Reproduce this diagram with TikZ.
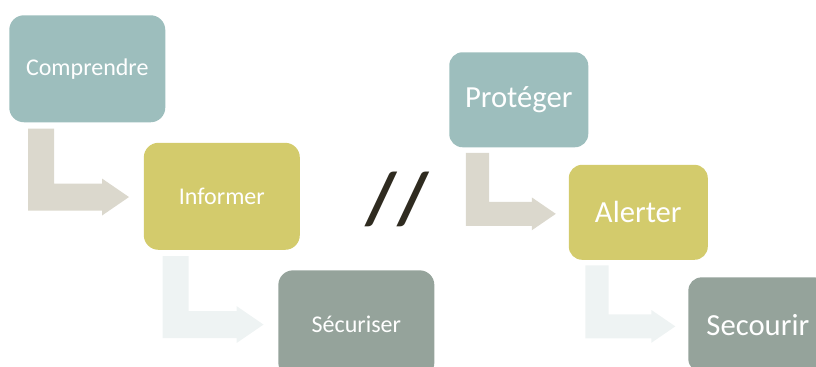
\documentclass[tikz,border=0pt]{standalone}
\usepackage{fontspec}
\setmainfont{Carlito}
\usetikzlibrary{positioning}
\definecolor{stepone}{RGB}{157,190,189}
\definecolor{steptwo}{RGB}{211,203,108}
\definecolor{stepthree}{RGB}{149,163,155}
\definecolor{bendone}{RGB}{219,216,205}
\definecolor{bendtwo}{RGB}{238,243,243}
\definecolor{slashink}{RGB}{47,43,32}
\tikzset{
    box/.style={rectangle, rounded corners=11pt, text=white, align=center, minimum width=117pt, minimum height=80.25pt, font=\fontsize{18}{20}\selectfont},
    bigbox/.style={box, rounded corners=10pt, minimum width=104.25pt, minimum height=71.25pt, font=\fontsize{23}{26}\selectfont},
    bentarrow/.pic={
        \fill (19,-6) -- (45,-6) -- (45,-61) -- (93,-61) -- (93,-56) -- (120,-74.5)
              -- (93,-93) -- (93,-88) -- (19,-88) -- cycle;
    }
}
\begin{document}
\begin{tikzpicture}[x=0.75pt, y=0.75pt, node distance=15pt and -16.5pt]

    \clip (0,0) rectangle (816,-367);

    % Left chain
    \node (comp) [box, fill=stepone, anchor=north west] at (9,-15) {Comprendre};
    \node (info) [box, fill=steptwo, below right=of comp] {Informer};
    \node (secu) [box, fill=stepthree, below right=of info] {Sécuriser};

    % Separator
    \node (sep) [text=slashink, font=\fontsize{55}{55}\selectfont\bfseries] at (397,-199) {//};

    % Right chain
    \node (prot) [bigbox, fill=stepone, anchor=north west] at (449,-52) {Protéger};
    \node (aler) [bigbox, fill=steptwo, below right=12.75pt and -15pt of prot] {Alerter};
    \node (seco) [bigbox, fill=stepthree, below right=12.75pt and -15pt of aler] {Secourir};

    % Bent arrows
    \path (comp.south west) pic[color=bendone] {bentarrow};
    \path (info.south west) pic[color=bendtwo] {bentarrow};
    \path (prot.south west) pic[color=bendone, scale=0.89] {bentarrow};
    \path (aler.south west) pic[color=bendtwo, scale=0.89] {bentarrow};

\end{tikzpicture}
\end{document}
